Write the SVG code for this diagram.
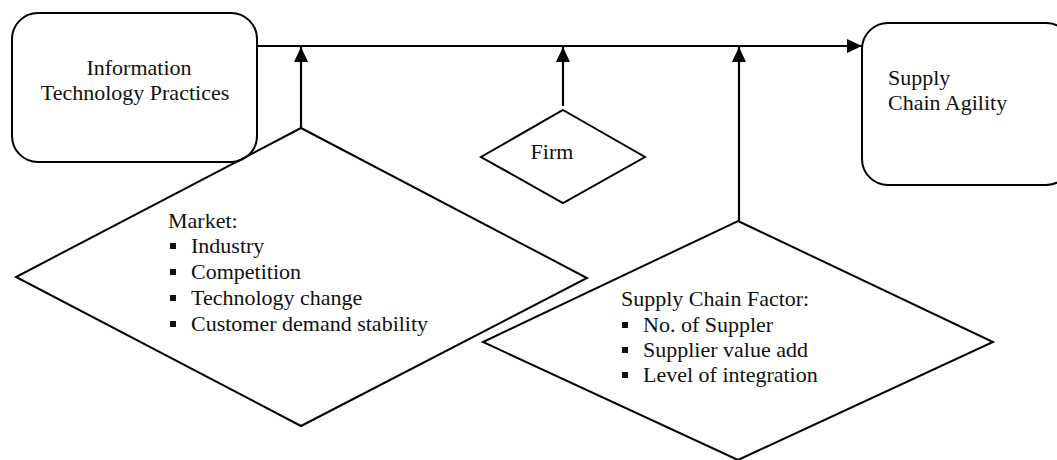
<svg xmlns="http://www.w3.org/2000/svg" width="1057" height="460" viewBox="0 0 1057 460">
<defs>
<style>
.shape{fill:none;stroke:#000;stroke-width:2;}
.conn{fill:none;stroke:#000;stroke-width:2.2;}
.t{font-family:"Liberation Serif","Times New Roman",serif;font-size:22px;fill:#111;}
.b{fill:#111;}
</style>
<marker id="arr" markerUnits="userSpaceOnUse" markerWidth="15" markerHeight="14" refX="15" refY="7" orient="auto">
<path d="M0,0 L15,7 L0,14 z" fill="#000"/>
</marker>
</defs>
<rect width="1057" height="460" fill="#fff"/>
<g id="node-itp">
<rect class="shape" x="12" y="13" width="245" height="149" rx="26" ry="26"/>
<text class="t" x="139" y="75" text-anchor="middle">Information</text>
<text class="t" x="135" y="100" text-anchor="middle">Technology Practices</text>
</g>
<g id="node-sca">
<rect class="shape" x="862" y="23" width="210" height="162" rx="26" ry="26"/>
<text class="t" x="888" y="85">Supply</text>
<text class="t" x="888" y="110">Chain Agility</text>
</g>
<g id="node-firm">
<polygon class="shape" points="563,110 645,157 563,203 481,157"/>
<text class="t" x="552" y="159" text-anchor="middle">Firm</text>
</g>
<g id="node-market">
<polygon class="shape" points="301,128 587,278 301,426 16,277"/>
<text class="t" x="168" y="228">Market:</text>
<rect class="b" x="170" y="243" width="6" height="6"/>
<text class="t" x="191" y="253">Industry</text>
<rect class="b" x="170" y="269" width="6" height="6"/>
<text class="t" x="191" y="279">Competition</text>
<rect class="b" x="170" y="295" width="6" height="6"/>
<text class="t" x="191" y="305">Technology change</text>
<rect class="b" x="170" y="321" width="6" height="6"/>
<text class="t" x="191" y="331">Customer demand stability</text>
</g>
<g id="node-scf">
<polygon class="shape" points="738,221 993,342 738,460 483,342"/>
<text class="t" x="621" y="306">Supply Chain Factor:</text>
<rect class="b" x="622" y="322" width="6" height="6"/>
<text class="t" x="643" y="332">No. of Suppler</text>
<rect class="b" x="622" y="347" width="6" height="6"/>
<text class="t" x="643" y="357">Supplier value add</text>
<rect class="b" x="622" y="372" width="6" height="6"/>
<text class="t" x="643" y="382">Level of integration</text>
</g>
<g id="connectors">
<line class="conn" x1="257" y1="46" x2="862" y2="46" marker-end="url(#arr)"/>
<line class="conn" x1="301" y1="128" x2="301" y2="47" marker-end="url(#arr)"/>
<line class="conn" x1="563" y1="106" x2="563" y2="47" marker-end="url(#arr)"/>
<line class="conn" x1="739" y1="221" x2="739" y2="47" marker-end="url(#arr)"/>
</g>
</svg>
